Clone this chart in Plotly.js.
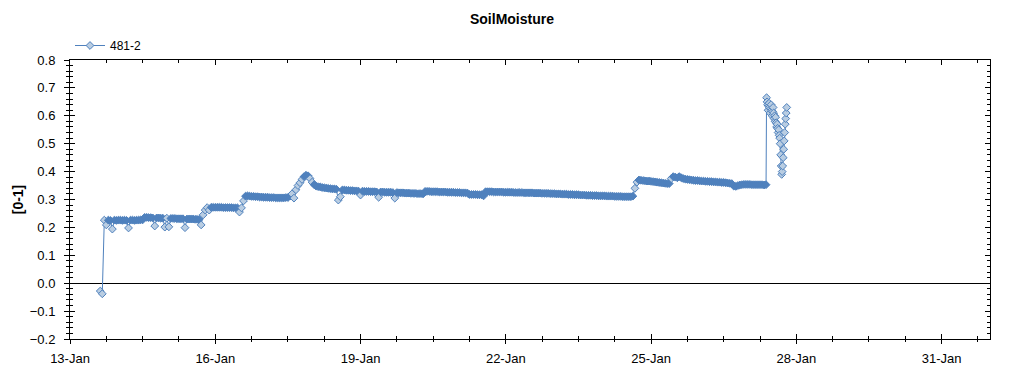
<!DOCTYPE html>
<html>
<head>
<meta charset="utf-8">
<script src="https://cdn.plot.ly/plotly-3.0.1.min.js"></script>
<style>html,body{margin:0;padding:0;background:#fff;}#chart{width:1024px;height:375px;}</style>
</head>
<body>
<div id="chart"></div>
<script>
const chartTitle = 'SoilMoisture';
const seriesName = '481-2';
const yTitle = '[0-1]';

// hourly readings starting 13-Jan 15:00
const mainStart = [2021, 0, 13, 15, 0];
const mainStepMinutes = 60;
const mainValues = [
  -0.028, -0.038, 0.226, 0.209, 0.226, 0.225, 0.194, 0.226, 0.225, 0.226, 0.226, 0.225,
  0.226, 0.225, 0.198, 0.226, 0.226, 0.225, 0.226, 0.226, 0.227, 0.227, 0.236, 0.236,
  0.235, 0.235, 0.234, 0.205, 0.234, 0.234, 0.233, 0.233, 0.201, 0.233, 0.202, 0.232,
  0.232, 0.232, 0.231, 0.231, 0.231, 0.231, 0.199, 0.230, 0.230, 0.230, 0.230, 0.229,
  0.229, 0.229, 0.209, 0.245, 0.262, 0.271, 0.262, 0.272, 0.272, 0.272, 0.272, 0.272,
  0.272, 0.271, 0.271, 0.271, 0.271, 0.271, 0.270, 0.270, 0.270, 0.255, 0.270, 0.295,
  0.312, 0.313, 0.312, 0.311, 0.311, 0.310, 0.310, 0.309, 0.309, 0.308, 0.308, 0.308,
  0.307, 0.307, 0.307, 0.306, 0.306, 0.306, 0.306, 0.306, 0.307, 0.307, 0.312, 0.320,
  0.305, 0.335, 0.350, 0.360, 0.372, 0.382, 0.387, 0.385, 0.375, 0.362, 0.353, 0.348,
  0.346, 0.345, 0.343, 0.342, 0.341, 0.340, 0.339, 0.338, 0.338, 0.337, 0.298, 0.310,
  0.334, 0.334, 0.333, 0.333, 0.332, 0.332, 0.331, 0.331, 0.330, 0.316, 0.330, 0.329,
  0.329, 0.329, 0.328, 0.328, 0.328, 0.327, 0.308, 0.327, 0.327, 0.326, 0.326, 0.326,
  0.326, 0.325, 0.305, 0.325, 0.324, 0.324, 0.324, 0.323, 0.323, 0.323, 0.322, 0.322,
  0.322, 0.321, 0.321, 0.321, 0.320, 0.329, 0.329, 0.329, 0.328, 0.328, 0.328, 0.328,
  0.327, 0.327, 0.327, 0.327, 0.326, 0.326, 0.326, 0.326, 0.325, 0.325, 0.325, 0.324,
  0.324, 0.324, 0.323, 0.318, 0.318, 0.318, 0.318, 0.317, 0.317, 0.317, 0.313, 0.328,
  0.328, 0.328, 0.328, 0.327, 0.327, 0.327, 0.327, 0.327, 0.326, 0.326, 0.326, 0.326,
  0.326, 0.325, 0.325, 0.325, 0.325, 0.325, 0.324, 0.324, 0.324, 0.324, 0.324, 0.323,
  0.323, 0.323, 0.323, 0.322, 0.322, 0.322, 0.322, 0.321, 0.321, 0.321, 0.320, 0.320,
  0.320, 0.319, 0.319, 0.319, 0.318, 0.318, 0.318, 0.317, 0.317, 0.317, 0.316, 0.316,
  0.316, 0.315, 0.315, 0.315, 0.314, 0.314, 0.314, 0.313, 0.313, 0.313, 0.313, 0.312,
  0.312, 0.312, 0.312, 0.311, 0.311, 0.311, 0.311, 0.310, 0.310, 0.310, 0.310, 0.310,
  0.312, 0.340, 0.362, 0.370, 0.369, 0.368, 0.367, 0.366, 0.366, 0.365, 0.364, 0.363,
  0.362, 0.361, 0.360, 0.359, 0.358, 0.357, 0.357, 0.375, 0.382, 0.380, 0.378, 0.382,
  0.378, 0.375, 0.373, 0.372, 0.371, 0.370, 0.369, 0.368, 0.368, 0.367, 0.366, 0.366,
  0.365, 0.365, 0.364, 0.364, 0.363, 0.363, 0.362, 0.362, 0.361, 0.361, 0.360, 0.359,
  0.358, 0.357, 0.348, 0.347, 0.350, 0.352, 0.353, 0.354, 0.354, 0.354, 0.354, 0.353,
  0.353, 0.353, 0.353, 0.353, 0.353, 0.352
];

// 15-minute readings starting 27-Jan 09:00
const spikeStart = [2021, 0, 27, 9, 0];
const spikeStepMinutes = 15;
const spikeValues = [
  0.353, 0.665, 0.650, 0.640, 0.620, 0.635, 0.645, 0.630, 0.610, 0.625, 0.640, 0.620,
  0.600, 0.615, 0.630, 0.610, 0.590, 0.600, 0.580, 0.595, 0.575, 0.560, 0.570, 0.555,
  0.540, 0.550, 0.530, 0.520, 0.500, 0.460, 0.420, 0.390, 0.400, 0.420, 0.450, 0.480,
  0.510, 0.540, 0.570, 0.590, 0.610, 0.630
];

const xRange = ['2021-01-13', '2021-02-01'];
const yRange = [-0.2, 0.8];

function pad(n){ return (n < 10 ? '0' : '') + n; }
function fmt(ms){
  const d = new Date(ms);
  return d.getUTCFullYear() + '-' + pad(d.getUTCMonth()+1) + '-' + pad(d.getUTCDate()) +
    ' ' + pad(d.getUTCHours()) + ':' + pad(d.getUTCMinutes());
}
function times(start, stepMin, n){
  const t0 = Date.UTC(start[0], start[1], start[2], start[3], start[4]);
  const out = [];
  for (let i = 0; i < n; i++) out.push(fmt(t0 + i * stepMin * 60000));
  return out;
}

const xs = times(mainStart, mainStepMinutes, mainValues.length)
  .concat(times(spikeStart, spikeStepMinutes, spikeValues.length));
const ys = mainValues.concat(spikeValues);

const blue = '#4f81bd';
const light = '#b9cde2';
const DAY = 86400000;

// densely packed readings merge into a solid band; isolated readings show their light fill
const fills = ys.map(function (v, i) {
  const p = i > 0 ? ys[i - 1] : null, n = i < ys.length - 1 ? ys[i + 1] : null;
  if (p === null || n === null) return light;
  return (Math.abs(v - p) < 0.006 || Math.abs(v - n) < 0.006) ? blue : light;
});

const traces = [
  {
    type: 'scatter', mode: 'lines+markers', name: seriesName,
    x: xs, y: ys,
    line: {color: blue, width: 1},
    marker: {symbol: 'diamond', size: 6, color: fills, line: {color: blue, width: 1}}
  },
  {type: 'scatter', mode: 'markers', x: [], y: [], xaxis: 'x2', yaxis: 'y2', showlegend: false, hoverinfo: 'skip'}
];

const layout = {
  width: 1024, height: 375,
  margin: {l: 70, r: 34, t: 60, b: 36, pad: 0},
  paper_bgcolor: '#ffffff', plot_bgcolor: '#ffffff',
  font: {family: 'Liberation Sans, Arial, sans-serif', size: 13, color: '#000'},
  title: {text: '<b>' + chartTitle + '</b>', font: {size: 14, color: '#000'},
          x: 0.5, xref: 'container', xanchor: 'center', y: 0.95, yref: 'container', yanchor: 'middle'},
  showlegend: true,
  legend: {x: 0, xanchor: 'left', y: 1, yanchor: 'bottom', orientation: 'h',
           font: {size: 12}, bgcolor: 'rgba(0,0,0,0)'},
  xaxis: {
    type: 'date', range: xRange, showgrid: false, zeroline: false,
    showline: true, linecolor: '#000', linewidth: 1, mirror: 'ticks',
    ticks: 'inside', ticklen: 5, tickcolor: '#000', tick0: xRange[0], dtick: 3 * DAY,
    showticklabels: false,
    minor: {ticks: 'inside', ticklen: 3, tickcolor: '#000', tick0: xRange[0], dtick: 0.75 * DAY, showgrid: false}
  },
  xaxis2: {
    type: 'date', range: xRange, overlaying: 'x', anchor: 'y', side: 'bottom',
    showgrid: false, zeroline: false, showline: false,
    ticks: 'outside', ticklen: 4, tickcolor: '#000', tick0: xRange[0], dtick: 3 * DAY,
    tickformat: '%d-%b', ticklabelstandoff: 3,
    minor: {ticks: 'outside', ticklen: 2, tickcolor: '#000', tick0: xRange[0], dtick: 0.75 * DAY, showgrid: false}
  },
  yaxis: {
    range: yRange, showgrid: false, showline: true, linecolor: '#000', linewidth: 1, mirror: 'ticks',
    ticks: 'inside', ticklen: 5, tickcolor: '#000', tick0: 0, dtick: 0.1, showticklabels: false,
    zeroline: true, zerolinecolor: '#000', zerolinewidth: 1,
    minor: {ticks: 'inside', ticklen: 3, tickcolor: '#000', tick0: 0, dtick: 0.02, showgrid: false}
  },
  yaxis2: {
    range: yRange, overlaying: 'y', anchor: 'x', side: 'left',
    showgrid: false, zeroline: false, showline: false,
    ticks: 'outside', ticklen: 5, tickcolor: '#000', tick0: 0, dtick: 0.1, tickformat: '.1f',
    ticklabelstandoff: 6,
    minor: {ticks: 'outside', ticklen: 3, tickcolor: '#000', tick0: 0, dtick: 0.02, showgrid: false},
    title: {text: '<b>' + yTitle + '</b>', font: {size: 14}, standoff: 2}
  }
};

Plotly.newPlot('chart', traces, layout, {displayModeBar: false, staticPlot: true});
</script>
</body>
</html>
